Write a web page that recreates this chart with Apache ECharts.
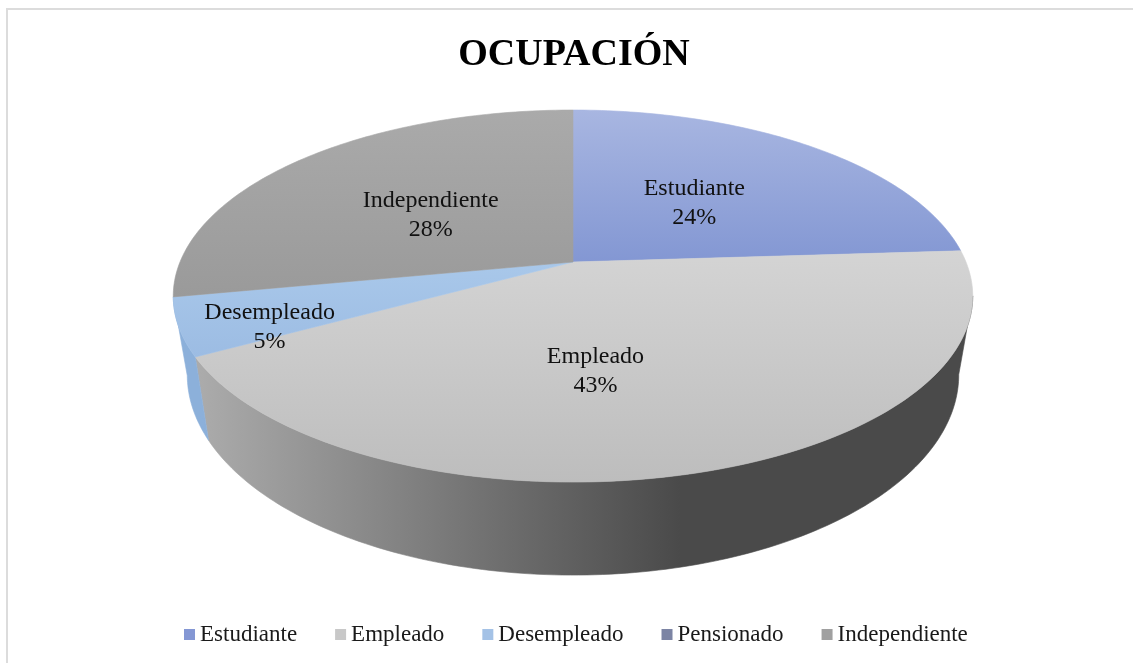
<!DOCTYPE html>
<html>
<head>
<meta charset="utf-8">
<script src="https://cdn.jsdelivr.net/npm/echarts@6/dist/echarts.min.js"></script>
<style>
  html, body { margin: 0; padding: 0; background: #fff; }
  #chart { width: 1133px; height: 663px; }
</style>
</head>
<body>
<div id="chart"></div>
<script>
const categories = ['Estudiante', 'Empleado', 'Desempleado', 'Pensionado', 'Independiente'];
const shares = [24, 43, 5, 0, 28];
const legendColors = ['#8497d4', '#c8c8c8', '#a4c2e6', '#7c84a4', '#a0a0a0'];
const topColors = [
  ['#a8b6e1', '#8397d3'],
  ['#d4d4d4', '#bdbdbd'],
  ['#a9c8ea', '#9cbce3'],
  ['#8890b0', '#7880a0'],
  ['#aaaaaa', '#9a9a9a']
];
const sideColors = [
  ['#7f93cc', '#6a7fbd'],
  ['#ababab', '#4a4a4a'],
  ['#8cb0da', '#739cc9'],
  ['#707898', '#606888'],
  ['#8e8e8e', '#7a7a7a']
];
// [position along the slice, distance from centre] for each label
const labelSpots = [[0.5, 0.48], [0.57, 0.55], [0.2, 0.8], [0.5, 0.5], [0.464, 0.47]];

// tilted disc seen in perspective
const geo = { cx: 573, cy: 262, a: 393, c: 179.8, b: 0.183, depth: 76, shrink: 0.965 };
const total = shares.reduce((s, v) => s + v, 0);
const starts = [];
let acc = 0;
shares.forEach(v => { starts.push(acc / total * 360); acc += v; });

function proj(deg, k, drop) {
  const p = deg * Math.PI / 180;
  const u = k * Math.sin(p), v = -k * Math.cos(p);
  const w = 1 / (1 - geo.b * v);
  const s = drop ? geo.shrink : 1;
  return [geo.cx + geo.a * u * w * s, geo.cy + geo.c * v * w + (drop ? geo.depth * w : 0)];
}

function arc(a0, a1, k, drop) {
  const pts = [];
  const n = Math.max(2, Math.ceil(Math.abs(a1 - a0)));
  for (let i = 0; i <= n; i++) pts.push(proj(a0 + (a1 - a0) * i / n, k, drop));
  return pts;
}

function sliceRange(i) {
  return [starts[i], starts[i] + shares[i] / total * 360];
}

function renderSide(params, api) {
  const i = params.dataIndex;
  if (!api.value(0)) return null;
  const [a0, a1] = sliceRange(i);
  const lo = Math.max(a0, 100.5), hi = Math.min(a1, 259.5);
  if (hi - lo < 1) return null;
  const pts = arc(lo, hi, 1, false).concat(arc(hi, lo, 1, true));
  const fill = {
    type: 'linear', x: 200, y: 0, x2: 680, y2: 0, global: true,
    colorStops: [{ offset: 0, color: sideColors[i][0] }, { offset: 1, color: sideColors[i][1] }]
  };
  return { type: 'polygon', shape: { points: pts }, style: { fill: fill, stroke: fill, lineWidth: 0.6 } };
}

function renderTop(params, api) {
  const i = params.dataIndex;
  if (!api.value(0)) return null;
  const [a0, a1] = sliceRange(i);
  const pts = [proj(0, 0, false)].concat(arc(a0, a1, 1, false));
  const fill = {
    type: 'linear', x: 0, y: 0, x2: 0, y2: 1,
    colorStops: [{ offset: 0, color: topColors[i][0] }, { offset: 1, color: topColors[i][1] }]
  };
  const spot = labelSpots[i];
  const lp = proj(a0 + (a1 - a0) * spot[0], spot[1], false);
  return {
    type: 'group',
    children: [
      { type: 'polygon', shape: { points: pts }, style: { fill: fill, stroke: fill, lineWidth: 0.6 } },
      {
        type: 'text', x: lp[0], y: lp[1], z2: 10,
        style: {
          text: categories[i] + '\n' + Math.round(api.value(0) / total * 100) + '%',
          fill: '#111', fontFamily: 'Liberation Serif', fontSize: 24, lineHeight: 29,
          align: 'center', verticalAlign: 'middle'
        }
      }
    ]
  };
}

const chart = echarts.init(document.getElementById('chart'));
const sliceData = categories.map((name, i) => ({ name: name, value: shares[i] }));

chart.setOption({
  animation: false,
  backgroundColor: '#fff',
  title: {
    text: 'OCUPACIÓN',
    left: 569,
    textAlign: 'center',
    top: 31,
    textStyle: { fontFamily: 'Liberation Serif', fontSize: 38, fontWeight: 'bold', color: '#000' }
  },
  legend: {
    data: categories,
    bottom: 12,
    left: 179,
    icon: 'rect',
    itemWidth: 11,
    itemHeight: 11,
    itemGap: 38,
    textStyle: { fontFamily: 'Liberation Serif', fontSize: 23, color: '#1a1a1a' }
  },
  graphic: [{
    type: 'rect', silent: true,
    shape: { x: 7, y: 9, width: 1200, height: 700 },
    style: { fill: 'none', stroke: '#dcdcdc', lineWidth: 2 }
  }],
  series: [
    {
      name: 'legend',
      type: 'pie',
      radius: [0, 0],
      silent: true,
      label: { show: false },
      labelLine: { show: false },
      data: categories.map((name, i) => ({ name: name, value: shares[i], itemStyle: { color: legendColors[i] } }))
    },
    { name: 'sides', type: 'custom', coordinateSystem: 'none', z: 1, silent: true, renderItem: renderSide, data: sliceData },
    { name: 'tops', type: 'custom', coordinateSystem: 'none', z: 2, silent: true, renderItem: renderTop, data: sliceData }
  ]
});
</script>
</body>
</html>
